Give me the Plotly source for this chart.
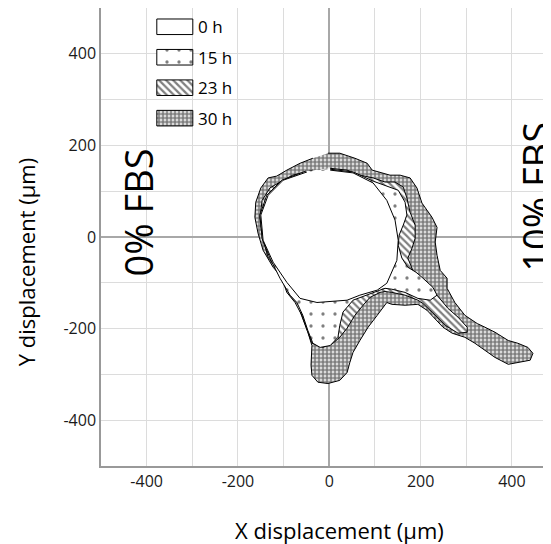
import plotly.graph_objects as go

# ---------------- data (µm) ----------------
x_30h = [-3, 23, 56, 83, 94, 118, 133, 155, 177, 192, 203, 225, 236, 232, 236, 243, 258, 258,
         275, 297, 324, 341, 363, 392, 413, 435, 446, 440, 413, 392, 363, 341, 319, 297, 269,
         249, 232, 214, 194, 166, 137, 126, 105, 85, 67, 52, 45, 39, 23, -3, -25, -38, -40,
         -38, -47, -58, -69, -82, -93, -123, -145, -156, -163, -161, -150, -134, -115, -93,
         -64, -36]
y_30h = [183, 183, 172, 161, 146, 140, 135, 135, 129, 107, 74, 43, 21, -11, -40, -73, -90, -112,
         -143, -171, -189, -197, -208, -226, -232, -241, -254, -269, -274, -278, -263, -248,
         -232, -219, -210, -197, -178, -160, -147, -149, -147, -143, -171, -197, -226, -252,
         -274, -296, -313, -320, -317, -302, -280, -237, -208, -178, -149, -123, -101, -66,
         -29, 8, 43, 76, 107, 129, 133, 146, 161, 172]

x_23h = [2, 39, 67, 96, 122, 144, 162, 170, 177, 188, 188, 181, 172, 183, 203, 221, 236, 260,
         282, 302, 302, 282, 254, 225, 205, 194, 166, 137, 122, 111, 89, 74, 56, 39, 23, 8,
         -14, -38, -49, -60, -75, -93, -108, -134, -147, -152, -147, -130, -108, -80, -36]
y_23h = [150, 146, 135, 129, 120, 120, 109, 85, 54, 26, -3, -25, -46, -73, -94, -112, -127,
         -156, -175, -197, -208, -210, -193, -164, -145, -138, -127, -121, -119, -121, -132,
         -149, -171, -199, -219, -232, -241, -232, -199, -171, -143, -121, -79, -44, 0, 43, 80,
         107, 120, 135, 146]

x_15h = [2, 52, 96, 122, 151, 166, 170, 162, 153, 151, 159, 172, 190, 203, 227, 236, 221, 194,
         166, 137, 122, 111, 83, 52, 30, 23, 19, 2, -20, -36, -47, -58, -71, -86, -108, -130,
         -147, -152, -137, -104, -51]
y_15h = [148, 142, 122, 113, 102, 76, 48, 26, 4, -18, -46, -66, -77, -88, -110, -127, -138,
         -134, -121, -114, -112, -116, -127, -138, -164, -193, -219, -237, -241, -232, -204,
         -171, -143, -127, -90, -46, -3, 48, 91, 124, 144]

x_0h = [2, 52, 96, 126, 144, 151, 148, 126, 105, 67, 39, -27, -64, -93, -123, -145, -150,
        -134, -101, -49]
y_0h = [146, 140, 118, 80, 37, -7, -51, -101, -116, -127, -138, -143, -134, -99, -55, -7, 48,
        91, 124, 142]

series_names = ["0 h", "15 h", "23 h", "30 h"]
tick_vals = [-400, -200, 0, 200, 400]
tick_text = ["-400", "-200", "0", "200", "400"]
grid_vals = [-500, -400, -300, -200, -100, 0, 100, 200, 300, 400, 500]

# ---------------- styles ----------------
FONT = "Open Sans"
patterns = {
    "0 h": dict(shape=""),
    "15 h": dict(shape=".", size=12, solidity=0.06, fgcolor="black", bgcolor="white"),
    "23 h": dict(shape="\\", size=5, solidity=0.45, fgcolor="black", bgcolor="white"),
    "30 h": dict(shape=".", size=4, solidity=0.72, fgcolor="black", bgcolor="white"),
}
shapes_data = {"0 h": (x_0h, y_0h), "15 h": (x_15h, y_15h),
               "23 h": (x_23h, y_23h), "30 h": (x_30h, y_30h)}

fig = go.Figure()

# draw largest (latest) first so earlier outlines sit on top
for name in reversed(series_names):
    xs, ys = shapes_data[name]
    fig.add_trace(go.Scatter(
        x=xs, y=ys, mode="lines", fill="toself", name=name,
        fillcolor="white", fillpattern=patterns[name],
        line=dict(color="black", width=1), showlegend=False, hoverinfo="skip"))

# manual legend (overlay axis spanning the plot area, 0..1)
LEG_X0, LEG_X1 = 0.124, 0.204
LEG_TOP, LEG_STEP, LEG_H = 0.976, 0.0665, 0.034
annotations = []
for i, name in enumerate(series_names):
    top = LEG_TOP - i * LEG_STEP
    bot = top - LEG_H
    fig.add_trace(go.Scatter(
        x=[LEG_X0, LEG_X1, LEG_X1, LEG_X0, LEG_X0], y=[top, top, bot, bot, top],
        xaxis="x2", yaxis="y2", mode="lines", fill="toself",
        fillcolor="white", fillpattern=patterns[name],
        line=dict(color="black", width=1), showlegend=False, hoverinfo="skip"))
    annotations.append(dict(
        x=LEG_X1 + 0.006, y=(top + bot) / 2, xref="x2", yref="y2", text=name,
        showarrow=False, xanchor="left", yanchor="middle",
        font=dict(family=FONT, size=17, color="black")))

annotations += [
    dict(text="Y displacement (µm)", x=-0.1667, y=0.445, xref="paper", yref="paper",
         xanchor="center", yanchor="middle", textangle=-90, showarrow=False,
         font=dict(family=FONT, size=22, color="black")),
    dict(text="X displacement (µm)", x=0.529, y=-0.139, xref="paper", yref="paper",
         xanchor="center", yanchor="middle", showarrow=False,
         font=dict(family=FONT, size=22, color="black")),
    dict(text="0% FBS", x=0.0833, y=0.5546, xref="paper", yref="paper",
         xanchor="center", yanchor="middle", textangle=-90, showarrow=False,
         font=dict(family=FONT, size=38, color="black")),
    dict(text="10% FBS", x=0.968, y=0.587, xref="paper", yref="paper",
         xanchor="center", yanchor="middle", textangle=-90, showarrow=False,
         font=dict(family=FONT, size=38, color="black")),
    dict(text="<b>A</b>", x=0.902, y=-0.1485, xref="paper", yref="paper",
         xanchor="center", yanchor="top", showarrow=False,
         font=dict(family="Liberation Sans", size=40, color="black")),
]

axis_common = dict(
    showgrid=True, gridcolor="#dcdcdc", gridwidth=1,
    zeroline=True, zerolinecolor="#a8a8a8", zerolinewidth=1.5,
    showline=True, linecolor="#999999", linewidth=1.5,
    ticks="", tickfont=dict(family=FONT, size=16, color="#1a1a1a"),
    tickmode="array", tickvals=tick_vals, ticktext=tick_text,
    minor=dict(tickmode="array", tickvals=grid_vals, showgrid=True,
               gridcolor="#dcdcdc", gridwidth=1),
)

# the page adds an 8px body margin, so the figure is sized to fill the window from there
fig.update_layout(
    width=543, height=536,
    margin=dict(l=93, r=0, t=0, b=78),
    paper_bgcolor="white", plot_bgcolor="white",
    showlegend=False,
    xaxis=dict(range=[-500, 485.6], **axis_common),
    yaxis=dict(range=[-500, 500], **axis_common),
    xaxis2=dict(overlaying="x", range=[0, 1], visible=False),
    yaxis2=dict(overlaying="y", range=[0, 1], visible=False),
    annotations=annotations,
)

fig.write_html("out.html")
